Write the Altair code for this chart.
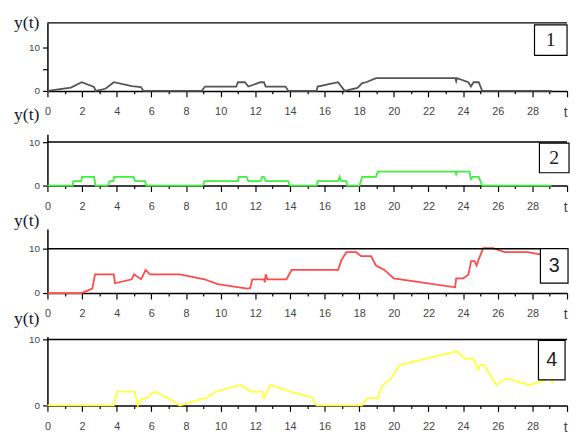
import altair as alt
import pandas as pd

# ---- data ----
t1 = [0, 1.35, 1.98, 2.69, 2.78, 3.35, 3.83, 4.87, 5.4, 5.54, 8.91, 9.1, 10.9, 11.0, 11.4, 11.6,
      12.3, 12.5, 12.6, 13.75, 13.9, 15.54, 15.6, 16.78, 17.16, 17.9, 18.17, 18.4, 18.97, 23.55,
      23.6, 23.65, 24.3, 24.45, 24.6, 24.9, 25.1, 29.1]
y1 = [0, 0.75, 2.0, 0.9, 0, 0.5, 2.0, 1.1, 0.9, 0, 0, 1, 1, 2, 2, 1,
      2, 2, 1, 1, 0, 0, 1, 2.0, 0, 0.7, 1.8, 2.0, 2.95, 2.95,
      2.2, 2.95, 2.0, 1.0, 2.0, 2.0, 0, 0]

t2 = [0, 1.45, 1.5, 1.95, 2.0, 2.69, 2.78, 3.47, 3.6, 3.8, 3.85, 4.97, 5.07, 5.64, 5.7, 8.97,
      9.07, 11.0, 11.05, 11.5, 11.6, 12.3, 12.4, 12.5, 12.6, 13.9, 14.0, 15.54, 15.6, 16.78,
      16.87, 16.97, 17.26, 17.3, 18.02, 18.17, 18.97, 19.07, 23.55, 23.6, 23.65, 24.36, 24.45,
      24.55, 24.9, 25.1, 29.1]
y2 = [0, 0, 1, 1, 2, 2, 0, 0, 1, 1, 2, 2, 1, 1, 0, 0,
      1, 1, 2, 2, 1, 1, 2, 2, 1, 1, 0, 0, 1, 1,
      2, 1, 1, 0, 0, 2, 2, 3.2, 3.2, 2.6, 3.2, 3.2, 1.5,
      2.0, 2.0, 0, 0]

t3 = [0, 1.97, 2.59, 2.75, 3.83, 3.9, 4.87, 5.0, 5.41, 5.67, 5.92, 7.64, 9.07, 9.83, 11.54,
      11.7, 11.83, 12.5, 12.55, 12.6, 12.7, 13.8, 14.1, 16.78, 16.97, 17.26, 17.83, 18.11,
      18.69, 18.97, 19.45, 20.0, 23.54, 23.6, 24.0, 24.3, 24.46, 24.66, 24.78, 24.9, 25.16,
      25.73, 26.4, 27.73, 29.16]
y3 = [0, 0, 1.0, 4.2, 4.2, 2.2, 3.1, 4.2, 3.1, 5.2, 4.2, 4.2, 3.1, 2.0, 1.0,
      1.1, 3.1, 3.1, 2.4, 4.2, 3.1, 3.1, 5.2, 5.2, 7.4, 9.2, 9.2, 8.3,
      8.3, 6.2, 5.2, 3.3, 1.3, 3.3, 3.3, 4.1, 7.2, 7.2, 6.2, 7.6, 10.1,
      10.1, 9.2, 9.2, 8.2]

t4 = [0, 3.83, 4.02, 5.03, 5.22, 5.45, 5.73, 6.17, 6.97, 7.64, 8.69, 9.16, 9.73, 11.16, 11.73,
      12.4, 12.5, 12.87, 14.0, 15.26, 15.54, 18.17, 18.44, 19.07, 19.31, 19.83, 20.34, 23.64,
      24.11, 24.59, 24.87, 24.97, 25.22, 25.92, 26.5, 27.83, 29.07, 29.2]
y4 = [0, 0, 2.1, 2.1, 0, 0.95, 1.1, 2.1, 1.1, 0, 0.8, 1.1, 2.1, 3.1, 2.1,
      2.1, 1.1, 3.1, 2.1, 1.2, 0, 0, 1.1, 1.1, 2.9, 4.0, 6.1, 8.2,
      7.1, 7.1, 5.4, 6.1, 6.1, 3.1, 4.1, 3.1, 4.1, 3.2]

panel_labels = ["1", "2", "3", "4"]
x_ticks = list(range(0, 31))
y_ticks = [0, 5, 10]

W = 527

x_axis = alt.Axis(
    values=x_ticks,
    labelExpr="datum.value == 30 ? 't' : (datum.value % 2 == 0 ? datum.label : '')",
    tickSize={"condition": {"test": "datum.value % 2 == 0", "value": 6}, "value": 3},
    labelFontSize={"condition": {"test": "datum.value == 30", "value": 14}, "value": 11},
    labelAlign={"condition": {"test": "datum.value == 30", "value": "right"}, "value": "center"},
    labelPadding=9, labelFlush=False, labelOverlap=False, title=None,
)
y_axis = alt.Axis(
    values=y_ticks,
    labelExpr="datum.value == 5 ? '' : datum.label",
    tickSize=5, labelPadding=3, title=None,
)


def panel(ts, ys, color, width, height, ymax, label, top_rule_at_ten,
          ylab_y, box, label_font):
    df = pd.DataFrame({"t": ts, "y": ys})
    line = alt.Chart(df).mark_line(color=color, strokeWidth=1.8).encode(
        x=alt.X("t:Q", scale=alt.Scale(domain=[0, 30], nice=False), axis=x_axis),
        y=alt.Y("y:Q", scale=alt.Scale(domain=[0, ymax], nice=False), axis=y_axis),
    )
    one = pd.DataFrame({"lbl": [label], "yt": ["y(t)"]})
    if top_rule_at_ten:
        rule = alt.Chart(one).mark_rule(color="black", strokeWidth=1.5).encode(
            x=alt.value(0), x2=alt.value(width), y=alt.datum(10))
    else:
        rule = alt.Chart(one).mark_rule(color="black", strokeWidth=1.5).encode(
            x=alt.value(0), x2=alt.value(width), y=alt.value(0))
    ylab = alt.Chart(one).mark_text(
        font="Liberation Serif", fontSize=18, color="#1a1a2e", align="left",
        baseline="middle").encode(x=alt.value(-34), y=alt.value(ylab_y), text="yt:N")
    bx0, bx1, by0, by1 = box
    rect = alt.Chart(one).mark_rect(fill="white", stroke="black", strokeWidth=1.2).encode(
        x=alt.value(bx0), x2=alt.value(bx1), y=alt.value(by0), y2=alt.value(by1))
    num = alt.Chart(one).mark_text(
        font=label_font, fontSize=20, color="#222", align="center",
        baseline="middle").encode(
        x=alt.value((bx0 + bx1) / 2), y=alt.value((by0 + by1) / 2), text="lbl:N")
    return alt.layer(line, rule, ylab, rect, num).properties(width=width, height=height)


p1 = panel(t1, y1, "#555555", W, 69, 15.7, panel_labels[0], False, 0,
           (494, 527, 2, 33), "Liberation Serif")
p2 = panel(t2, y2, "#3cf03c", W, 52, 11.8, panel_labels[1], True, -20,
           (499, 529, 9, 39), "Liberation Serif")
p3 = panel(t3, y3, "#ff4a4a", W, 65, 14.44, panel_labels[2], True, -8,
           (500, 528, 20, 55), "Liberation Sans")
p4 = panel(t4, y4, "#ffff3a", W, 70, 10.45, panel_labels[3], True, -18,
           (498, 525, 4, 44), "Liberation Sans")

chart = alt.vconcat(p1, p2, p3, p4, spacing=44, bounds="flush").properties(
    padding={"left": 6, "top": 3, "right": 0, "bottom": 5}
).configure_view(stroke=None).configure_axis(
    domainColor="black", domainWidth=1.5, tickColor="black", tickWidth=1.2,
    labelColor="#444", labelFont="Liberation Sans", grid=False,
)

chart.save("out.html", embed_options={"renderer": "svg", "actions": False})
